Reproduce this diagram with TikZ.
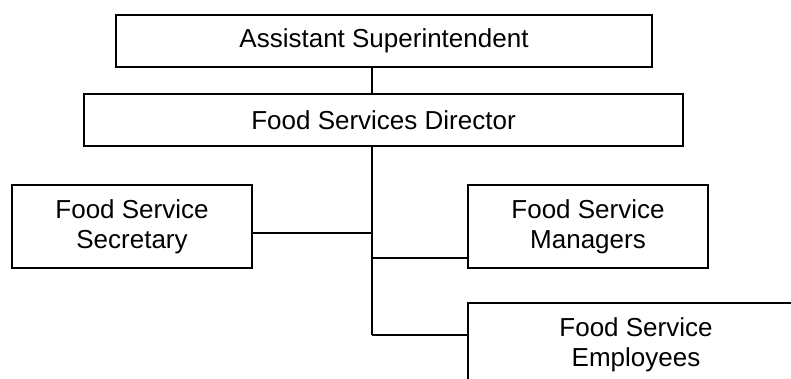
\documentclass[tikz,border=0pt]{standalone}
\usepackage{fontspec}
\setmainfont{Liberation Sans}
\begin{document}
\begin{tikzpicture}[x=1pt,y=-1pt,
  orgbox/.style={draw=black, line width=1.8pt, fill=white, inner sep=0pt,
    align=center, font=\fontsize{26}{30}\selectfont},
  link/.style={draw=black, line width=1.6pt}]
  \useasboundingbox (0,0) rectangle (791,378);
  \clip (0,0) rectangle (791,378);

  % boxes
  \node[orgbox, minimum width=536, minimum height=52] (asst) at (384,41) {Assistant Superintendent};
  \node[orgbox, minimum width=599, minimum height=52] (dir) at (383.5,120) {Food Services Director};
  \node[orgbox, minimum width=240, minimum height=83] (sec) at (132,226.5) {Food Service\\Secretary};
  \node[orgbox, minimum width=240, minimum height=83] (mgr) at (588,226.5) {Food Service\\Managers};
  \node[orgbox, minimum width=336, minimum height=83] (emp) at (636,344.5) {Food Service\\Employees};

  % trunk and branch points
  \coordinate (trunk) at (372,0);
  \coordinate (j1) at (372,233);
  \coordinate (j2) at (372,258);
  \coordinate (j3) at (372,335);

  % connectors
  \draw[link] (asst.south -| trunk) -- (dir.north -| trunk);
  \draw[link] (dir.south -| trunk) -- (j3);
  \draw[link] (j1) -- (j1 -| sec.east);
  \draw[link] (j2) -- (j2 -| mgr.west);
  \draw[link] (j3) -- (j3 -| emp.west);
\end{tikzpicture}
\end{document}
